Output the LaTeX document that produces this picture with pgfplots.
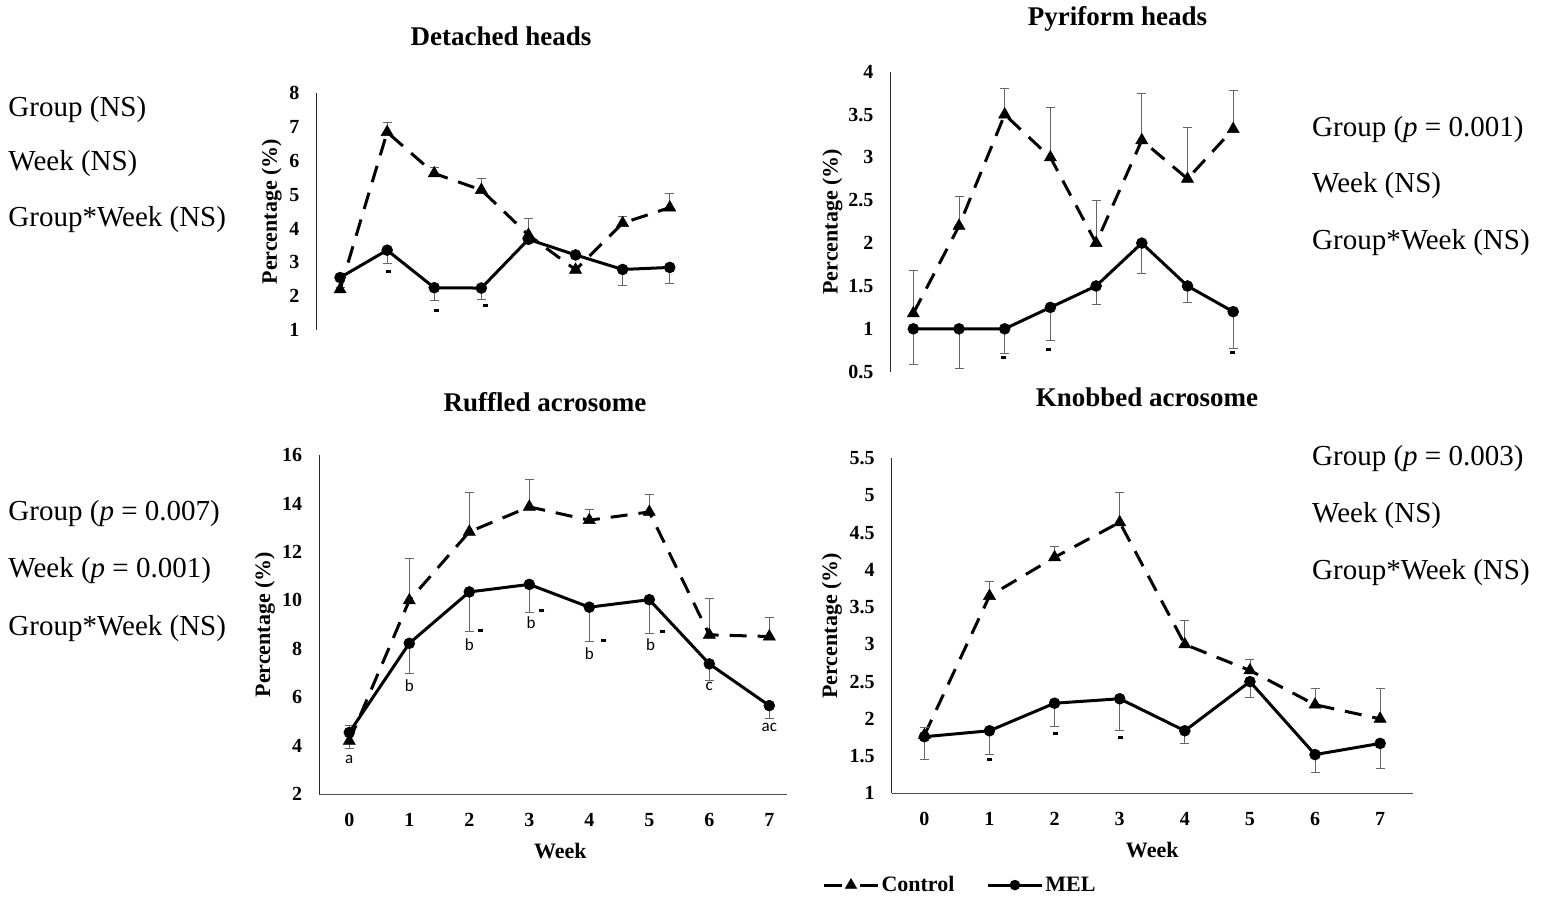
\documentclass[border=0pt]{standalone}
\usepackage{pgfplots}
\pgfplotsset{compat=1.18}
\usepackage{pgfplotstable}
\usepackage{fontspec}
\setmainfont{Liberation Serif}
\newfontfamily\calib{Carlito}

\pgfplotstableread{
x c ce m me
0 2.20 0.05 2.55 0.10
1 6.85 0.30 3.36 0.39
2 5.63 0.17 2.25 0.37
3 5.14 0.35 2.24 0.34
4 3.81 0.50 3.68 0.10
5 2.78 0.05 3.22 0.10
6 4.16 0.20 2.79 0.46
7 4.62 0.42 2.85 0.47
}\detached
\pgfplotstableread{
x c ce m me
0 1.18 0.50 1.00 0.42
1 2.20 0.35 1.00 0.46
2 3.50 0.30 1.00 0.29
3 3.00 0.58 1.25 0.39
4 2.00 0.50 1.50 0.21
5 3.20 0.55 2.00 0.35
6 2.75 0.60 1.50 0.19
7 3.33 0.45 1.20 0.43
}\pyriform
\pgfplotstableread{
x c ce m me
0 4.20 0.63 4.55 0.64
1 10.00 1.73 8.23 1.26
2 12.83 1.63 10.35 1.62
3 13.86 1.14 10.66 1.17
4 13.31 0.44 9.72 1.42
5 13.65 0.74 10.03 1.41
6 8.58 1.49 7.38 0.66
7 8.51 0.80 5.66 0.51
}\ruffled
\pgfplotstableread{
x c ce m me
0 1.78 0.10 1.76 0.30
1 3.65 0.20 1.84 0.32
2 4.17 0.15 2.21 0.31
3 4.64 0.40 2.27 0.42
4 3.00 0.32 1.84 0.17
5 2.65 0.15 2.50 0.21
6 2.19 0.22 1.52 0.24
7 2.00 0.41 1.67 0.33
}\knobbed

\pgfplotsset{
  panel/.style={scale only axis, xmin=-0.5, clip=false,
    major tick length=0pt, xtick={0,...,7},
    /pgf/number format/assume math mode=true,
    yticklabel style={font=\bfseries\fontsize{20}{20}\selectfont, inner sep=0pt, xshift=-17pt},
    xticklabel style={font=\bfseries\fontsize{20}{20}\selectfont, inner sep=0pt, yshift=-19pt},
    ylabel={Percentage (\%)},
    ylabel style={font=\bfseries\fontsize{22}{22}\selectfont, anchor=center, inner sep=0pt},
  },
  noarrow/.style={axis line style={-, line width=1pt},
    every outer x axis line/.append style={-, black!70},
    every outer y axis line/.append style={-, black!85}},
  ctrl/.style={black, line width=3pt, dash pattern=on 17pt off 11pt, mark=triangle*, mark size=7pt, mark options={solid, line width=0.5pt}},
  mel/.style={black, line width=3pt, solid, mark=*, mark size=5.5pt, mark options={solid, line width=0.5pt}},
  ebcommon/.style={error bars/y explicit,
    error bars/error bar style={line width=0.8pt, black!60, solid},
    error bars/error mark options={rotate=90, mark size=4.5pt, line width=0.8pt, black!60}},
  ebup/.style={ebcommon, error bars/y dir=plus},
  ebdn/.style={ebcommon, error bars/y dir=minus},
  star/.style={only marks, mark=-, mark size=2.5pt, mark options={line width=3pt, black}},
}

\begin{document}
\begin{tikzpicture}
\useasboundingbox (0,0) rectangle (1551pt,907pt);

% Detached heads
\begin{axis}[panel, at={(316.5pt,577pt)}, anchor=south west, width=376.8pt, height=236.7pt,
  xmax=7.5, ymin=1, ymax=8, ytick={1,...,8}, axis x line=none, axis y line=left, noarrow,
  ylabel style={at={(axis description cs:-0.119,0.5)}}]
\addplot[ctrl, ebup] table[x=x, y=c, y error=ce] {\detached};
\addplot[mel, ebdn] table[x=x, y=m, y error=me] {\detached};
\addplot[star] coordinates {(1.02,2.72) (2.05,1.59) (3.08,1.71)};
\end{axis}

% Pyriform heads
\begin{axis}[panel, at={(890.45pt,535.3pt)}, anchor=south west, width=365.6pt, height=300pt,
  xmax=7.5, ymin=0.5, ymax=4, ytick={0.5,1,...,4}, axis x line=none, axis y line=left, noarrow,
  ylabel style={at={(axis description cs:-0.159,0.5)}}]
\addplot[ctrl, ebup] table[x=x, y=c, y error=ce] {\pyriform};
\addplot[mel, ebdn] table[x=x, y=m, y error=me] {\pyriform};
\addplot[star] coordinates {(1.98,0.66) (2.95,0.76) (6.99,0.72)};
\end{axis}

% Ruffled acrosome
\begin{axis}[panel, at={(319.3pt,112.7pt)}, anchor=south west, width=468pt, height=339.3pt,
  xmax=7.3, ymin=2, ymax=16, ytick={2,4,...,16}, axis x line=bottom, axis y line=left, noarrow,
  ylabel style={at={(axis description cs:-0.116,0.5)}},
  xlabel={Week}, xlabel style={at={(axis description cs:0.5,0)}, anchor=north, yshift=-49pt, xshift=7pt, inner sep=0pt, font=\bfseries\fontsize{22}{22}\selectfont}]
\addplot[ctrl, ebup] table[x=x, y=c, y error=ce] {\ruffled};
\addplot[mel, ebdn] table[x=x, y=m, y error=me] {\ruffled};
\addplot[star] coordinates {(2.19,8.74) (3.21,9.6) (4.23,8.36) (5.22,8.73)};
\addplot[draw=none, mark=none, nodes near coords, point meta=explicit symbolic,
  every node near coord/.append style={anchor=center, inner sep=0pt, font=\calib\fontsize{17}{17}\selectfont}]
  coordinates {(0,3.43)[a] (1,6.5)[b] (2,8.19)[b] (3.03,9.07)[b] (4,7.81)[b] (5.02,8.19)[b] (6,6.43)[c] (7,4.77)[ac]};
\end{axis}

% Knobbed acrosome
\begin{axis}[panel, at={(891.8pt,113.7pt)}, anchor=south west, width=520.9pt, height=335pt,
  xmax=7.5, ymin=1, ymax=5.5, ytick={1,1.5,...,5.5}, axis x line=bottom, axis y line=left, noarrow,
  ylabel style={at={(axis description cs:-0.115,0.5)}},
  xlabel={Week}, xlabel style={at={(axis description cs:0.5,0)}, anchor=north, yshift=-49pt, inner sep=0pt, font=\bfseries\fontsize{22}{22}\selectfont},
  legend style={at={(axis description cs:0.131,-0.274)}, anchor=center, draw=none, fill=none,
    legend columns=2, font=\bfseries\fontsize{22}{22}\selectfont,
    /tikz/every even column/.append style={column sep=30pt}},
  legend image code/.code={\draw[mark repeat=2, mark phase=2, #1] plot coordinates {(0pt,0pt) (27pt,0pt) (54pt,0pt)};}]
\addplot[forget plot, ctrl, ebup] table[x=x, y=c, y error=ce] {\knobbed};
\addplot[forget plot, mel, ebdn] table[x=x, y=m, y error=me] {\knobbed};
\addplot[forget plot, star] coordinates {(1.0,1.45) (2.02,1.8) (3.01,1.75)};
\addlegendimage{black, line width=3pt, dash pattern=on 18pt off 18pt, mark=triangle*, mark size=6.5pt, mark options={solid, line width=0.5pt}}
\addlegendentry{Control}
\addlegendimage{black, line width=3pt, mark=*, mark size=5pt, mark options={solid, line width=0.5pt}}
\addlegendentry{MEL}
\end{axis}

% Titles
\begin{scope}[every node/.style={inner sep=0pt, anchor=base, font=\bfseries\fontsize{27}{27}\selectfont}]
\node at (501pt,861pt) {Detached heads};
\node at (1117.5pt,881pt) {Pyriform heads};
\node at (545pt,495pt) {Ruffled acrosome};
\node at (1147pt,500pt) {Knobbed acrosome};
\end{scope}

% Statistics text
\begin{scope}[every node/.style={inner sep=0pt, anchor=base west, font=\fontsize{29}{29}\selectfont}]
\node at (8.3pt,790.3pt) {Group (NS)};
\node at (8.3pt,736pt) {Week (NS)};
\node at (8.3pt,680.3pt) {Group*Week (NS)};
\node at (1312pt,770.3pt) {Group ({\itshape p} = 0.001)};
\node at (1312pt,714.3pt) {Week (NS)};
\node at (1312pt,657.3pt) {Group*Week (NS)};
\node at (8.3pt,386.3pt) {Group ({\itshape p} = 0.007)};
\node at (8.3pt,329.3pt) {Week ({\itshape p} = 0.001)};
\node at (8.3pt,271.3pt) {Group*Week (NS)};
\node at (1312pt,441pt) {Group ({\itshape p} = 0.003)};
\node at (1312pt,384.5pt) {Week (NS)};
\node at (1312pt,327.5pt) {Group*Week (NS)};
\end{scope}
\end{tikzpicture}
\end{document}
